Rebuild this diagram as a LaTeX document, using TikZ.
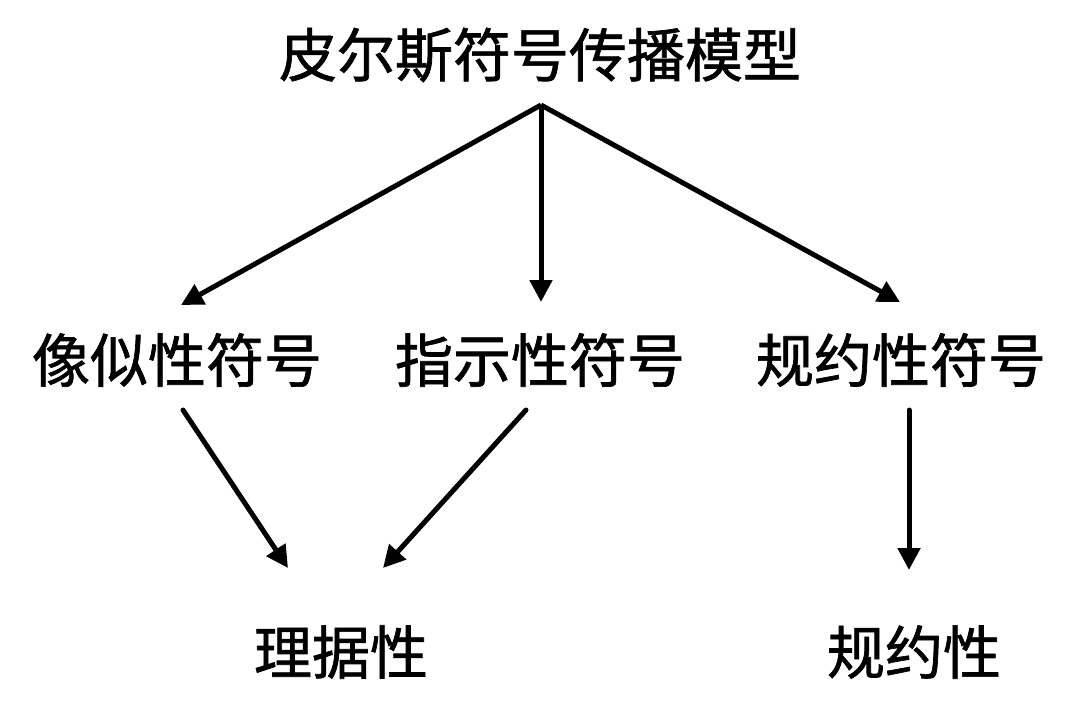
\documentclass[tikz,border=0pt]{standalone}
\usepackage{fontspec}
\newfontfamily\cjk[AutoFakeBold=1.2]{Noto Sans CJK SC}
\usetikzlibrary{arrows.meta}
\begin{document}
\begin{tikzpicture}[x=1pt,y=-1pt,
  lbl/.style={font=\cjk\bfseries\fontsize{58}{62}\selectfont, inner sep=0pt, anchor=center},
  conn/.style={line width=5pt, -{Triangle[length=22pt,width=22pt]}}]
\useasboundingbox (0,0) rectangle (1080,721);
\fill[white] (0,0) rectangle (1080,721);
\node[lbl] (title) at (540,55) {皮尔斯符号传播模型};
\node[lbl] (icon) at (177,360) {像似性符号};
\node[lbl] (index) at (540,360) {指示性符号};
\node[lbl] (symb) at (901,360) {规约性符号};
\node[lbl] (motiv) at (341,652) {理据性};
\node[lbl] (conv) at (914,652) {规约性};
\coordinate (apex) at (541,105);
\coordinate (e1) at (181,305);
\coordinate (e2) at (541,302);
\coordinate (e3) at (900,302);
\coordinate (s4) at (183,410);
\coordinate (e4) at (288,568);
\coordinate (s5) at (526,410);
\coordinate (e5) at (383,568);
\coordinate (s6) at (909,410);
\coordinate (e6) at (909,570);
\draw[conn] (apex) -- (e1);
\draw[conn] (apex) -- (e2);
\draw[conn] (apex) -- (e3);
\draw[conn,line cap=round] (s4) -- (e4);
\draw[conn,line cap=round] (s5) -- (e5);
\draw[conn,line cap=round] (s6) -- (e6);
\end{tikzpicture}
\end{document}
